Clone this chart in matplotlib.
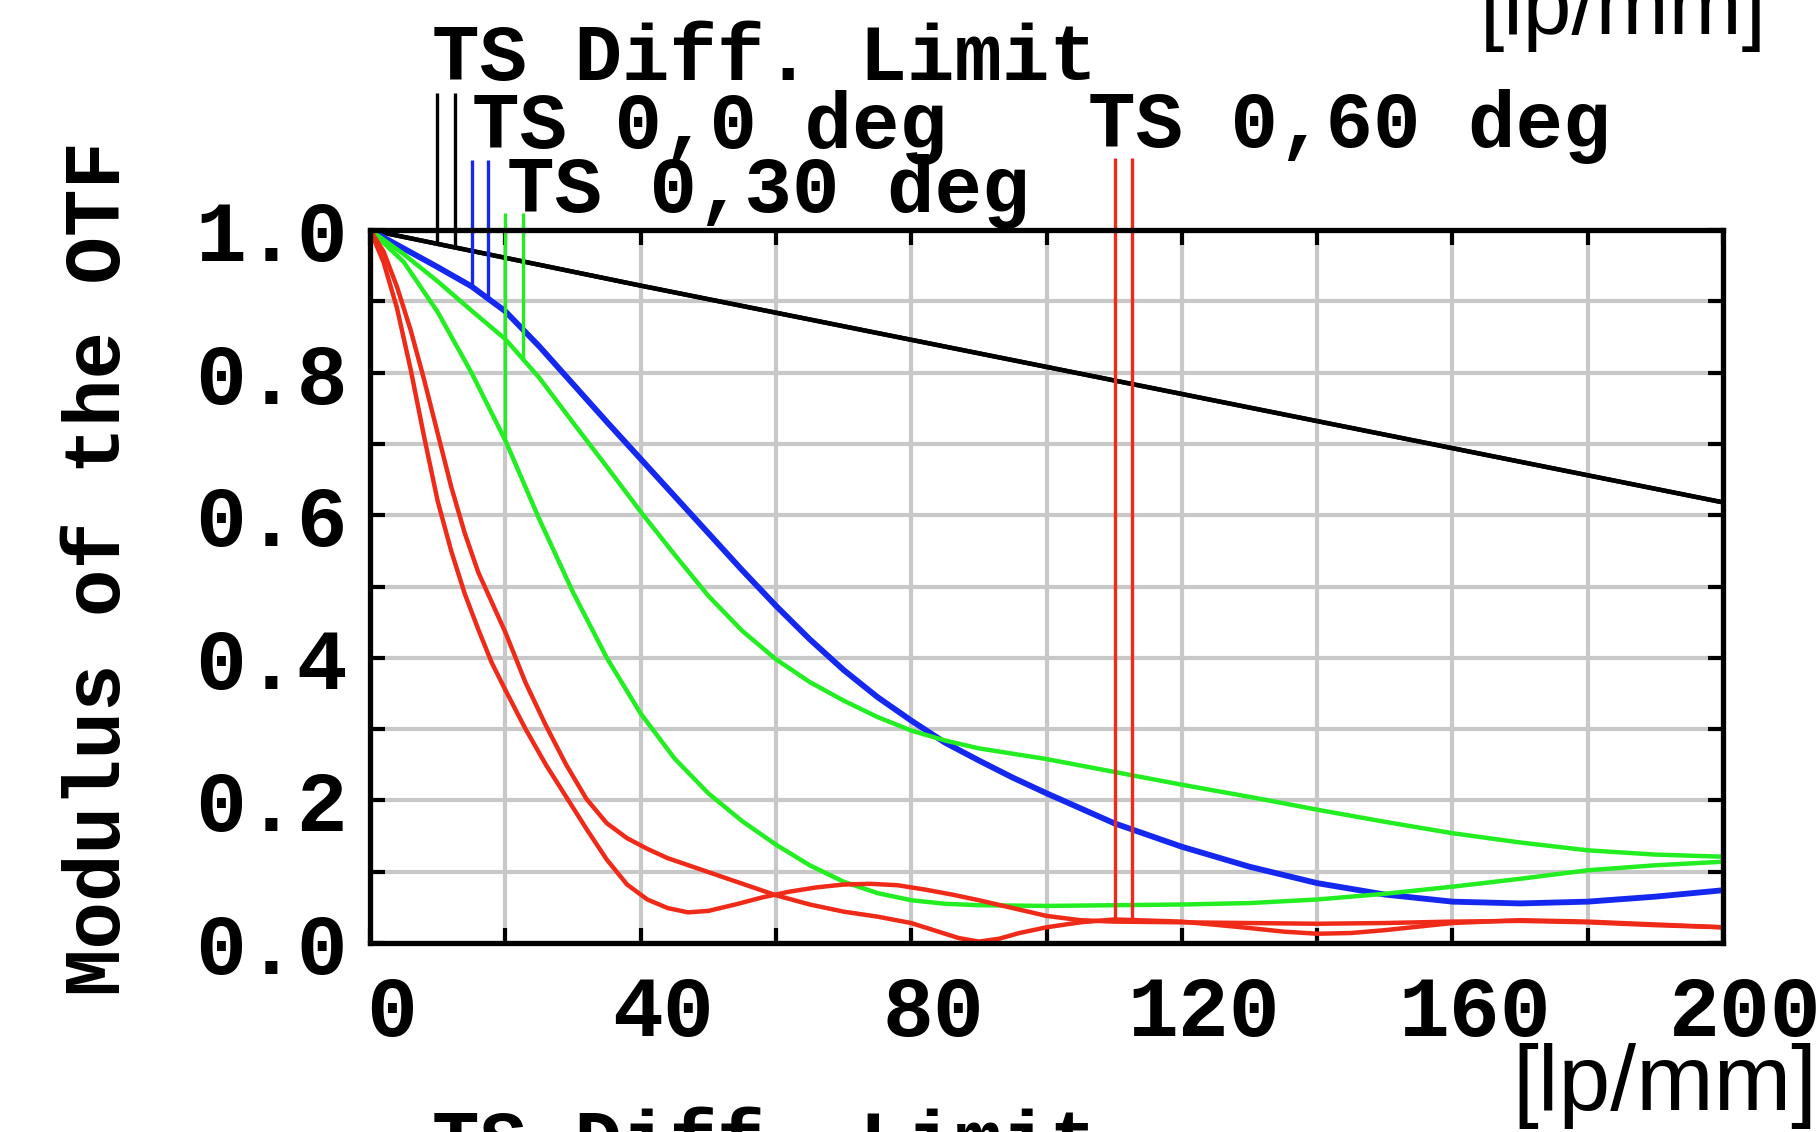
import numpy as np
import matplotlib
matplotlib.use("Agg")
import matplotlib.pyplot as plt
import matplotlib.transforms as mtransforms
from matplotlib.ticker import MultipleLocator, FormatStrFormatter

# Spatial frequency [lp/mm] and modulus of the OTF for each trace

# diffraction limit (T and S coincide)
freq_diff = [0, 20, 40, 60, 80, 100, 120, 140, 160, 180, 200]
mtf_diff = [1.0, 0.961, 0.922, 0.884, 0.846, 0.808, 0.770, 0.732, 0.694, 0.656, 0.618]

# field 0 deg (T and S coincide)
freq_f0 = [0, 5, 10, 15, 20, 25, 30, 35, 40, 45, 50, 55, 60, 65, 70, 75, 80, 85,
           90, 95, 100, 110, 120, 130, 140, 150, 160, 170, 180, 190, 200]
mtf_f0 = [1.0, 0.974, 0.948, 0.921, 0.886, 0.837, 0.784, 0.731, 0.679, 0.627, 0.575,
          0.523, 0.473, 0.426, 0.383, 0.345, 0.312, 0.281, 0.256, 0.232, 0.210,
          0.168, 0.135, 0.107, 0.084, 0.068, 0.058, 0.0555, 0.058, 0.065, 0.074]

# field 30 deg
freq_f30 = [0, 5, 10, 15, 20, 25, 30, 35, 40, 45, 50, 55, 60, 65, 70, 75, 80, 85,
            90, 100, 110, 120, 130, 140, 150, 160, 170, 180, 190, 200]
mtf_f30_a = [1.0, 0.966, 0.928, 0.887, 0.847, 0.793, 0.730, 0.668, 0.605, 0.545,
             0.487, 0.438, 0.398, 0.366, 0.340, 0.317, 0.298, 0.284, 0.273, 0.258,
             0.240, 0.222, 0.205, 0.187, 0.170, 0.154, 0.141, 0.130, 0.124, 0.121]
mtf_f30_b = [1.0, 0.955, 0.885, 0.800, 0.705, 0.595, 0.492, 0.400, 0.322, 0.259,
             0.210, 0.171, 0.138, 0.109, 0.086, 0.070, 0.060, 0.055, 0.053, 0.052,
             0.053, 0.054, 0.056, 0.061, 0.069, 0.079, 0.090, 0.102, 0.109, 0.114]

# field 60 deg
freq_f60_a = [0, 2, 4, 6, 8, 10, 12, 14, 16, 18, 20, 23, 26, 29, 32, 35, 38, 41, 44,
              47, 50, 54, 58, 62, 66, 70, 74, 78, 82, 86, 90, 95, 100, 105, 110, 120,
              130, 140, 150, 160, 170, 180, 190, 200]
mtf_f60_a = [1.0, 0.955, 0.890, 0.805, 0.710, 0.620, 0.550, 0.490, 0.440, 0.393,
             0.355, 0.300, 0.250, 0.205, 0.160, 0.117, 0.082, 0.061, 0.049, 0.043,
             0.045, 0.054, 0.064, 0.072, 0.078, 0.082, 0.083, 0.081, 0.075, 0.068,
             0.060, 0.049, 0.038, 0.032, 0.030, 0.029, 0.028, 0.027, 0.028, 0.030,
             0.031, 0.029, 0.025, 0.022]
freq_f60_b = [0, 2, 4, 6, 8, 10, 12, 14, 16, 18, 20, 23, 26, 29, 32, 35, 38, 41, 44,
              48, 52, 56, 60, 65, 70, 75, 80, 84, 87, 90, 93, 96, 100, 105, 110, 120,
              130, 135, 140, 145, 150, 160, 170, 180, 190, 200]
mtf_f60_b = [1.0, 0.970, 0.920, 0.860, 0.790, 0.715, 0.640, 0.575, 0.520, 0.478,
             0.436, 0.365, 0.305, 0.250, 0.202, 0.168, 0.147, 0.132, 0.119, 0.106,
             0.093, 0.080, 0.067, 0.054, 0.044, 0.037, 0.028, 0.016, 0.007, 0.002,
             0.006, 0.014, 0.022, 0.029, 0.033, 0.030, 0.021, 0.016, 0.013, 0.014,
             0.018, 0.028, 0.032, 0.030, 0.026, 0.022]

# frequencies where each legend leader meets its curve
leader_diff = [9.9, 12.6]
leader_f0 = [15.1, 17.4]
leader_f30 = [20.0, 22.6]
leader_f60 = [110.1, 112.6]

BLACK = "black"
BLUE = "#1428f0"
GREEN = "#22ee22"
RED = "#f02a18"
MONO = "Liberation Mono"

fig = plt.figure(figsize=(18.17, 11.32), dpi=100)
ax = fig.add_axes([370 / 1817, 189 / 1132, 1353 / 1817, 713 / 1132])
ax.set_xlim(0, 200)
ax.set_ylim(0, 1)

ax.xaxis.set_major_locator(MultipleLocator(40))
ax.xaxis.set_minor_locator(MultipleLocator(20))
ax.yaxis.set_major_locator(MultipleLocator(0.2))
ax.yaxis.set_minor_locator(MultipleLocator(0.1))
ax.yaxis.set_major_formatter(FormatStrFormatter("%.1f"))
ax.grid(which="both", color="#c8c8c8", lw=3.0)
ax.set_axisbelow(True)
ax.tick_params(which="both", direction="in", top=True, right=True,
               length=11, width=3, color="black")
ax.tick_params(axis="x", which="major", pad=22, labelsize=61)
ax.tick_params(axis="y", which="major", pad=16, labelsize=61)
for lbl in ax.get_xticklabels() + ax.get_yticklabels():
    lbl.set_fontfamily(MONO)
    lbl.set_fontweight("bold")
for sp in ax.spines.values():
    sp.set_linewidth(3.8)
    sp.set_zorder(5)

# x labels sit a little right of their ticks
shift = mtransforms.ScaledTranslation(0.22, 0, fig.dpi_scale_trans)
for tick in ax.xaxis.get_major_ticks():
    tick.label1.set_transform(tick.label1.get_transform() + shift)

# curves
ax.plot(freq_diff, mtf_diff, color=BLACK, lw=3.2, zorder=3)
ax.plot(freq_diff, mtf_diff, color=BLACK, lw=3.2, zorder=3)
ax.plot(freq_f0, mtf_f0, color=BLUE, lw=4.2, zorder=3)
ax.plot(freq_f30, mtf_f30_a, color=GREEN, lw=3.2, zorder=3)
ax.plot(freq_f30, mtf_f30_b, color=GREEN, lw=3.2, zorder=3)
ax.plot(freq_f60_a, mtf_f60_a, color=RED, lw=3.2, zorder=3)
ax.plot(freq_f60_b, mtf_f60_b, color=RED, lw=3.2, zorder=3)

# legend leaders: vertical lines from each label down to its curve
leaders = [
    (leader_diff, [(freq_diff, mtf_diff), (freq_diff, mtf_diff)], 1.192, BLACK),
    (leader_f0, [(freq_f0, mtf_f0), (freq_f0, mtf_f0)], 1.098, BLUE),
    (leader_f30, [(freq_f30, mtf_f30_b), (freq_f30, mtf_f30_a)], 1.024, GREEN),
    (leader_f60, [(freq_f60_a, mtf_f60_a), (freq_f60_b, mtf_f60_b)], 1.101, RED),
]
for xs, traces, top, col in leaders:
    for x, (fx, fy) in zip(xs, traces):
        ax.vlines(x, np.interp(x, fx, fy), top, colors=col, lw=2.4,
                  clip_on=False, zorder=4)

lab = dict(fontfamily=MONO, fontweight="bold", fontsize=57,
           ha="left", va="baseline", clip_on=False)
ax.text(9.16, 1.2104, "TS Diff. Limit", **lab)
ax.text(15.08, 1.115, "TS 0,0 deg", **lab)
ax.text(20.25, 1.0252, "TS 0,30 deg", **lab)
ax.text(106.1, 1.1164, "TS 0,60 deg", **lab)

fig.text(100 / 1817, 1 - 568 / 1132, "Modulus of the OTF", rotation=90,
         ha="center", va="center", fontfamily=MONO, fontweight="bold", fontsize=57)

# neighbouring panels' captions that run into this frame
fig.text(1480 / 1817, 1 - 34 / 1132, "[lp/mm]", fontfamily="Liberation Sans",
         fontsize=63, ha="left", va="baseline")
fig.text(1512 / 1817, 1 - 1110 / 1132, "[lp/mm]", fontfamily="Liberation Sans",
         fontsize=67, ha="left", va="baseline")
fig.text(432 / 1817, 1 - 1166 / 1132, "TS Diff. Limit", fontfamily=MONO,
         fontweight="bold", fontsize=57, ha="left", va="baseline")

fig.savefig("out.png", dpi=100, facecolor="white")
